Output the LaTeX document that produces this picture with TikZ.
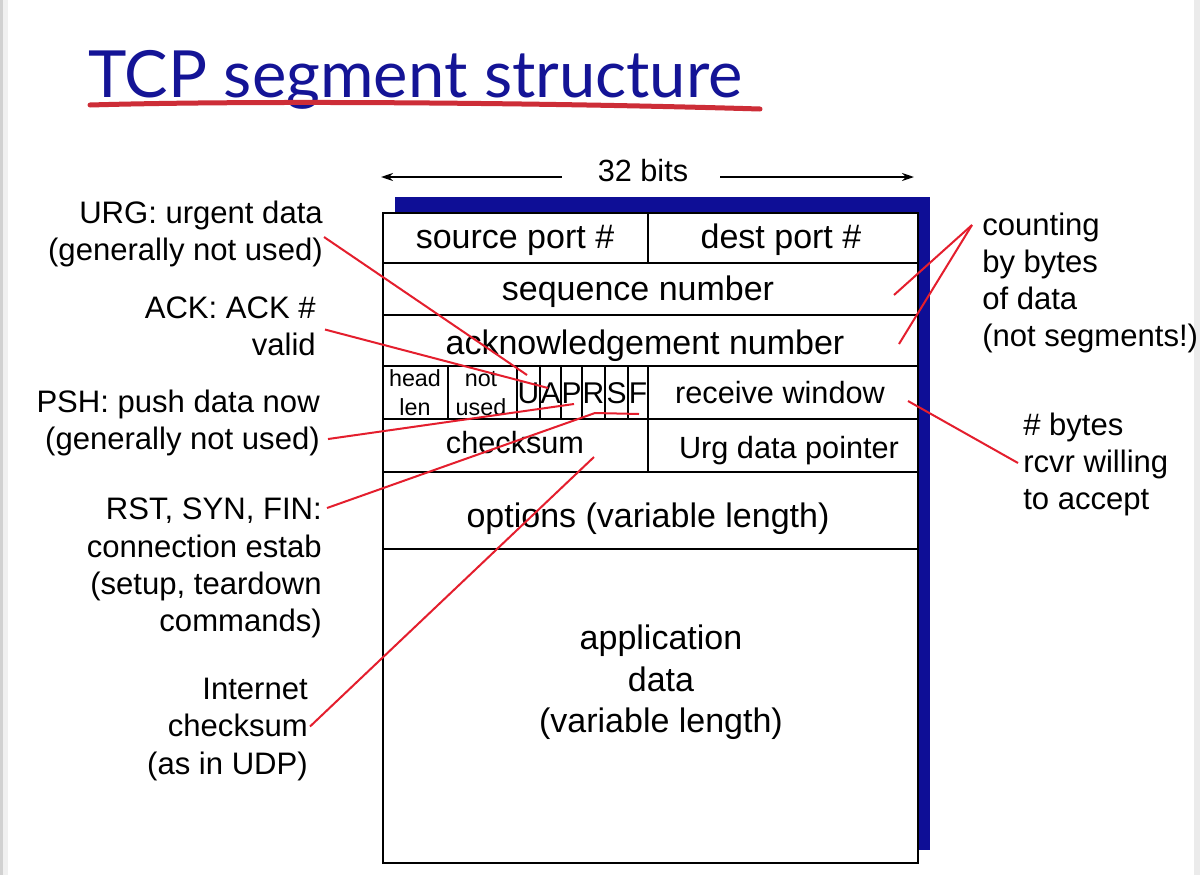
\documentclass[tikz,border=0pt]{standalone}
\usepackage{fontspec}
\setmainfont{Liberation Sans}
\newfontfamily\titlefont{Lato}
\usetikzlibrary{arrows.meta}
\definecolor{navy}{RGB}{14,14,150}
\definecolor{tnavy}{RGB}{20,20,150}
\definecolor{lred}{RGB}{228,30,45}
\definecolor{ured}{RGB}{205,45,55}
\begin{document}
\begin{tikzpicture}[x=0.75pt,y=-0.75pt,
  grid/.style={line width=1.5pt,draw=black},
  bigtxt/.style={font=\fontsize{25.5}{30}\selectfont,inner sep=0pt,anchor=base},
  midtxt/.style={font=\fontsize{23}{28}\selectfont,inner sep=0pt,anchor=base},
  smalltxt/.style={font=\fontsize{17.5}{21.75}\selectfont,inner sep=0pt,anchor=base},
  flagtxt/.style={font=\fontsize{22.5}{24}\selectfont,inner sep=0pt,anchor=base},
  labr/.style={font=\fontsize{23.3}{27.4}\selectfont,align=right,inner sep=0pt,anchor=north east},
  labl/.style={font=\fontsize{23.3}{27.6}\selectfont,align=left,inner sep=0pt,anchor=north west},
  con/.style={draw=lred,line width=1.5pt},
  bitarrow/.style={line width=1.5pt,-{Stealth[length=9pt,width=6pt]}}]
\useasboundingbox (0,0) rectangle (1200,875);
\fill[white] (0,0) rectangle (1200,875);
\fill[black!18] (0,0) rectangle (3,875);
\fill[black!6] (3,0) rectangle (8,875);
\fill[black!8] (1194,0) rectangle (1200,875);

% title
\node[font=\titlefont\fontsize{48.8}{52}\selectfont,text=tnavy,anchor=base west,inner sep=0pt] (title) at (88,97) {TCP segment structure};
\draw[ured,line width=3.75pt,line cap=round] (90,105) .. controls (260,100) and (560,103) .. (760,109);

% 32 bits
\node[midtxt] (bits) at (643,181) {32 bits};
\coordinate (bl) at (381,177);
\coordinate (br) at (914,177);
\draw[bitarrow] (bits.west |- bl) ++(-36,0) -- (bl);
\draw[bitarrow] (bits.east |- br) ++(32,0) -- (br);

% blue shadow and box
\fill[navy] (395,197) rectangle (930,850);
\fill[white] (383,213) rectangle (918,863);
\draw[grid] (383,213) rectangle (918,863);
\foreach \yy in {263,315,366,419,472,549} \draw[grid] (383,\yy) -- (918,\yy);
\draw[grid] (648,213) -- (648,263);
\foreach \xx in {448,517,540,561,582,605,628,648} \draw[grid] (\xx,366) -- (\xx,419);
\draw[grid] (648,419) -- (648,472);

% field texts
\node[bigtxt] (src) at (515,248) {source port \#};
\node[bigtxt] (dst) at (781,248) {dest port \#};
\node[bigtxt] (seq) at (638,300) {sequence number};
\node[bigtxt] (ack) at (645,354) {acknowledgement number};
\node[smalltxt] (head) at (415,386) {head};
\node[smalltxt] (len) at (415,415) {len};
\node[smalltxt] (notu) at (481,386) {not};
\node[smalltxt] (used) at (481,415) {used};
\node[flagtxt] (fU) at (528.5,403) {U};
\node[flagtxt] (fA) at (550.5,403) {A};
\node[flagtxt] (fP) at (571.5,403) {P};
\node[flagtxt] (fR) at (593.5,403) {R};
\node[flagtxt] (fS) at (616.5,403) {S};
\node[flagtxt] (fF) at (638,403) {F};
\node[midtxt] (rwin) at (780,403) {receive window};
\node[midtxt] (csum) at (515,453) {checksum};
\node[midtxt] (urgp) at (789,458) {Urg data pointer};
\node[bigtxt] (opts) at (648,527) {options (variable length)};
\node[bigtxt,align=center,anchor=north,font=\fontsize{25.5}{31}\selectfont] (app) at (661,625) {application\\data\\(variable length)};

% labels
\node[labr] (lurg) at (323,201) {URG: urgent data\\(generally not used)};
\node[labr] (lack) at (316,297) {ACK: ACK \#\\valid};
\node[labr] (lpsh) at (320,390) {PSH: push data now\\(generally not used)};
\node[labr,font=\fontsize{23.3}{28}\selectfont] (lrst) at (322,498) {RST, SYN, FIN:\\connection estab\\(setup, teardown\\commands)};
\node[labr,font=\fontsize{23.3}{28}\selectfont] (linet) at (308,678) {Internet\\checksum\\(as in UDP)};
\node[labl] (lcnt) at (982,213) {counting\\by bytes\\of data\\(not segments!)};
\node[labl] (lbyt) at (1023,413) {\# bytes\\rcvr willing\\to accept};

% connector targets
\coordinate (tU) at (527,375);
\coordinate (tA) at (548,388);
\coordinate (tP) at (574,404);
\coordinate (tR) at (595,413);
\coordinate (tF) at (639,414);
\coordinate (tC) at (594,457);
\coordinate (tSeq) at (894,295);
\coordinate (tAck) at (899,344);
\coordinate (tWin) at (908,401);

% connectors
\draw[con] ([shift={(1,3)}]lurg.east) -- (tU);
\draw[con] ([shift={(9,3)}]lack.east) -- (tA);
\draw[con] ([shift={(8,-17)}]lpsh.south east) -- (tP);
\draw[con] ([shift={(5,10)}]lrst.north east) -- (tR) -- (tF);
\draw[con] ([shift={(2,-3)}]linet.east) -- (tC);
\draw[con] ([shift={(-10,12)}]lcnt.north west) -- (tSeq);
\draw[con] ([shift={(-10,12)}]lcnt.north west) -- (tAck);
\draw[con] ([shift={(-5,50)}]lbyt.north west) -- (tWin);
\end{tikzpicture}
\end{document}
